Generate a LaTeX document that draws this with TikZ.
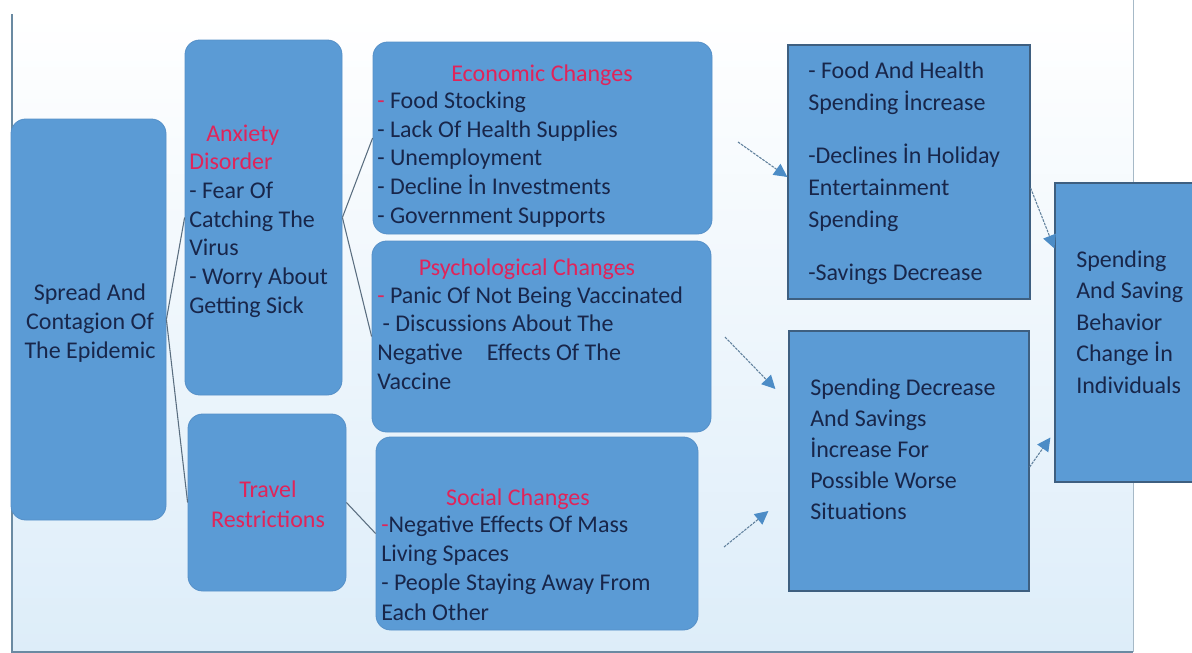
\documentclass[tikz,border=0pt]{standalone}
\usepackage{fontspec}
\setmainfont{Carlito}
\usetikzlibrary{arrows.meta,calc,fit}
\definecolor{boxblue}{HTML}{5B9BD5}
\definecolor{boxedge}{HTML}{5690C8}
\definecolor{rectedge}{HTML}{3E5F80}
\definecolor{ink}{HTML}{18264A}
\definecolor{hl}{HTML}{E0245A}
\definecolor{linegray}{HTML}{5A6E80}
\definecolor{arrline}{HTML}{60809C}
\definecolor{arrhead}{HTML}{4C8CC6}
\definecolor{bgblue}{HTML}{DDEDF9}
\definecolor{framec}{HTML}{6A8AA2}
\newcommand\hlt[1]{\textcolor{hl}{#1}}
\begin{document}
\begin{tikzpicture}[x=0.75pt,y=-0.75pt,
  rbox/.style={draw=boxedge, fill=boxblue, rounded corners=11pt, line width=0.6pt, inner sep=0pt},
  sbox/.style={draw=rectedge, fill=boxblue, line width=0.9pt, inner sep=0pt},
  txt/.style={anchor=base west, inner sep=0pt, align=left, text=ink, font=\fontsize{18}{21.5}\selectfont},
  ctxt/.style={anchor=center, inner sep=0pt, align=center, text=ink, font=\fontsize{18}{21.5}\selectfont},
  conn/.style={draw=linegray, line width=0.8pt},
  arr/.style={draw=arrline, line width=0.8pt, dash pattern=on 2pt off 0.8pt, -{Triangle[length=10pt,width=10pt,color=arrhead,fill=arrhead]}}]
\clip (0,0) rectangle (1192,653);
\fill[white] (0,0) rectangle (1192,653);
\shade[top color=white, bottom color=bgblue] (12,14) rectangle (1133,651);
\draw[draw=framec!60, line width=0.7pt] (1133,0) -- (1133,652);
\draw[draw=framec, line width=1.6pt] (12,14) -- (12,652) -- (1133,652);

% boxes
\node[rbox, fit={(11,119) (166,520)}] (spread) {};
\node[rbox, fit={(185,40) (342,395)}] (anx) {};
\node[rbox, fit={(188,414) (346,591)}] (trav) {};
\node[rbox, fit={(373,42) (712,234)}] (econ) {};
\node[rbox, fit={(372,241) (711,432)}] (psy) {};
\node[rbox, fit={(376,437) (698,630)}] (soc) {};
\node[sbox, fit={(788,45) (1030,299)}] (A) {};
\node[sbox, fit={(789,331) (1029,591)}] (B) {};
\node[sbox, fit={(1055,183) (1215,482)}] (C) {};

% texts (anchor = baseline of the last line)
\node[ctxt] (tspread) at (90,323) {Spread And\\Contagion Of\\The Epidemic};
\node[txt] (tanx) at (189,313) {\hspace*{12.75pt}\hlt{Anxiety}\\\hlt{Disorder}\\- Fear Of\\Catching The\\Virus\\- Worry About\\Getting Sick};
\node[ctxt, text=hl, font=\fontsize{18}{22.5}\selectfont] (ttrav) at (268,504) {Travel\\Restrictions};
\node[ctxt, text=hl] (tecon) at (542,75) {Economic Changes};
\node[txt] (teconi) at (377,223) {\hlt{-} Food Stocking\\- Lack Of Health Supplies\\- Unemployment\\- Decline İn Investments\\- Government Supports};
\node[ctxt, text=hl] (tpsy) at (527,269) {Psychological Changes};
\node[txt] (tpsyi) at (377,389) {\hlt{-} Panic Of Not Being Vaccinated\\\hspace*{4pt}- Discussions About The\\Negative\hspace*{18pt}Effects Of The\\Vaccine};
\node[ctxt, text=hl] (tsoc) at (518,499) {Social Changes};
\node[txt, font=\fontsize{18}{22}\selectfont] (tsoci) at (381,620) {\hlt{-}Negative Effects Of Mass\\Living Spaces\\- People Staying Away From\\Each Other};
\node[txt, font=\fontsize{18}{24}\selectfont] (tA) at (808,280) {- Food And Health\\Spending İncrease\\[15.5pt]-Declines İn Holiday\\Entertainment\\Spending\\[15.5pt]-Savings Decrease};
\node[txt, font=\fontsize{18}{23.25}\selectfont] (tB) at (810,519) {Spending Decrease\\And Savings\\İncrease For\\Possible Worse\\Situations};
\node[txt, font=\fontsize{18}{23.6}\selectfont] (tC) at (1076,393) {Spending\\And Saving\\Behavior\\Change İn\\Individuals};

% connectors
\draw[conn] (spread.east) -- (anx.west);
\draw[conn] (spread.east) -- (trav.west);
\draw[conn] (anx.east) -- (econ.west);
\draw[conn] (anx.east) -- (psy.west);
\draw[conn] (trav.east) -- (soc.west);

% arrows
\coordinate (s1) at (738,142);
\coordinate (s2) at (725,337);
\coordinate (s3) at (724,547);
\draw[arr] (s1) -- ($(A.west)+(0,5)$);
\draw[arr] (s2) -- ($(B.west)+(-13,-72)$);
\draw[arr] (s3) -- ($(B.west)+(-20,50)$);
\draw[arr] ($(A.east)+(0,16)$) -- ($(C.west)+(0,-84)$);
\draw[arr] ($(B.east)+(0,6)$) -- ($(C.west)+(-4,105)$);
\end{tikzpicture}
\end{document}
